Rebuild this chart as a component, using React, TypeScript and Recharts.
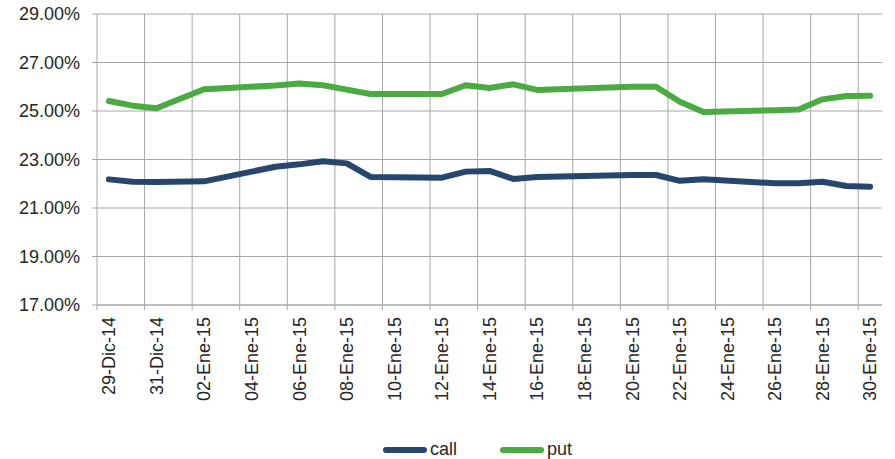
import { LineChart, Line, XAxis, YAxis, CartesianGrid, ReferenceLine, Legend } from "recharts";

// trading days (weekends and 1-Ene are missing, like in the source sheet)
const tradeDates = [
    "2014-12-29", "2014-12-30", "2014-12-31", "2015-01-02",
    "2015-01-05", "2015-01-06", "2015-01-07", "2015-01-08", "2015-01-09",
    "2015-01-12", "2015-01-13", "2015-01-14", "2015-01-15", "2015-01-16",
    "2015-01-19", "2015-01-20", "2015-01-21", "2015-01-22", "2015-01-23",
    "2015-01-26", "2015-01-27", "2015-01-28", "2015-01-29", "2015-01-30",
];

// implied vol, in %
const callValues = [
    22.18, 22.08, 22.07, 22.10,
    22.70, 22.80, 22.93, 22.84, 22.28,
    22.25, 22.50, 22.53, 22.20, 22.28,
    22.34, 22.36, 22.36, 22.12, 22.19,
    22.02, 22.02, 22.08, 21.91, 21.88,
];
const putValues = [
    25.41, 25.22, 25.11, 25.90,
    26.05, 26.13, 26.06, 25.88, 25.70,
    25.70, 26.06, 25.95, 26.10, 25.87,
    25.97, 26.00, 26.00, 25.38, 24.96,
    25.03, 25.06, 25.48, 25.62, 25.63,
];

// one label every two calendar days
const tickLabels = [
    "29-Dic-14", "31-Dic-14", "02-Ene-15", "04-Ene-15", "06-Ene-15", "08-Ene-15",
    "10-Ene-15", "12-Ene-15", "14-Ene-15", "16-Ene-15", "18-Ene-15", "20-Ene-15",
    "22-Ene-15", "24-Ene-15", "26-Ene-15", "28-Ene-15", "30-Ene-15",
];

const yTicks = [17, 19, 21, 23, 25, 27, 29];

const DAY = 86400000;
const start = Date.parse(tradeDates[0]);
const dayOf = (d: string) => Math.round((Date.parse(d) - start) / DAY);

const data = tradeDates.map((d, i) => ({ day: dayOf(d), call: callValues[i], put: putValues[i] }));
const lastDay = (tickLabels.length - 1) * 2;

// labels sit on the day, grid lines and tick marks sit between days
const labelTicks = tickLabels.map((_, i) => i * 2);
const boundaries = labelTicks.map((t) => t - 0.5);
const xTicks = [...boundaries, ...labelTicks].sort((a, b) => a - b);

const GRID = "#A6A6A6";
const TEXT = "#262626";
const FONT = "'Liberation Sans', Arial, sans-serif";

const XTick = (props: any) => {
    const { x, y, payload } = props;
    const v = payload.value;
    if (!Number.isInteger(v)) {
        return <line x1={x} x2={x} y1={y} y2={y + 5} stroke={GRID} strokeWidth={1} />;
    }
    return (
        <g transform={`translate(${x},${y})`}>
            <text x={-12} y={0} dy="0.35em" transform="rotate(-90)" textAnchor="end" fill={TEXT} fontSize={18} fontFamily={FONT}>
                {tickLabels[v / 2]}
            </text>
        </g>
    );
};

const LegendContent = (props: any) => {
    const { payload } = props;
    return (
        <div style={{ display: "flex", alignItems: "center", gap: 43, fontFamily: FONT, fontSize: 18, color: TEXT }}>
            {payload.map((item: any) => (
                <div key={item.value} style={{ display: "flex", alignItems: "center" }}>
                    <svg width={45} height={8} style={{ marginRight: 2 }}>
                        <line x1={3} x2={41} y1={4} y2={4} stroke={item.color} strokeWidth={6} strokeLinecap="round" />
                    </svg>
                    <span>{item.value}</span>
                </div>
            ))}
        </div>
    );
};

export default function App() {
    return (
        <div style={{ position: "absolute", left: 0, top: 0, width: 895, height: 459, background: "#fff" }}>
            <LineChart width={895} height={459} data={data} margin={{ top: 14, right: 13, left: 0, bottom: 0 }}>
                <CartesianGrid vertical={false} stroke={GRID} strokeWidth={1} />
                {boundaries.slice(1).map((b) => (
                    <ReferenceLine key={b} x={b} stroke={GRID} strokeWidth={1} />
                ))}
                <XAxis
                    dataKey="day"
                    type="number"
                    domain={[-0.5, lastDay + 0.5]}
                    ticks={xTicks}
                    interval={0}
                    height={154}
                    tickSize={0}
                    tickMargin={0}
                    tickLine={false}
                    axisLine={{ stroke: GRID }}
                    tick={<XTick />}
                />
                <YAxis
                    type="number"
                    domain={[17, 29]}
                    ticks={yTicks}
                    interval={0}
                    width={97}
                    tickSize={5}
                    tickMargin={12}
                    axisLine={{ stroke: GRID }}
                    tickLine={{ stroke: GRID }}
                    tick={{ fill: TEXT, fontSize: 18, fontFamily: FONT }}
                    tickFormatter={(v: number) => v.toFixed(2) + "%"}
                />
                <Line
                    dataKey="call"
                    name="call"
                    stroke="#26466D"
                    strokeWidth={6}
                    strokeLinecap="round"
                    strokeLinejoin="round"
                    dot={false}
                    isAnimationActive={false}
                />
                <Line
                    dataKey="put"
                    name="put"
                    stroke="#4BAA42"
                    strokeWidth={6}
                    strokeLinecap="round"
                    strokeLinejoin="round"
                    dot={false}
                    isAnimationActive={false}
                />
                <Legend
                    verticalAlign="middle"
                    content={<LegendContent />}
                    wrapperStyle={{ top: 439, left: 383, width: 300 }}
                />
            </LineChart>
        </div>
    );
}
